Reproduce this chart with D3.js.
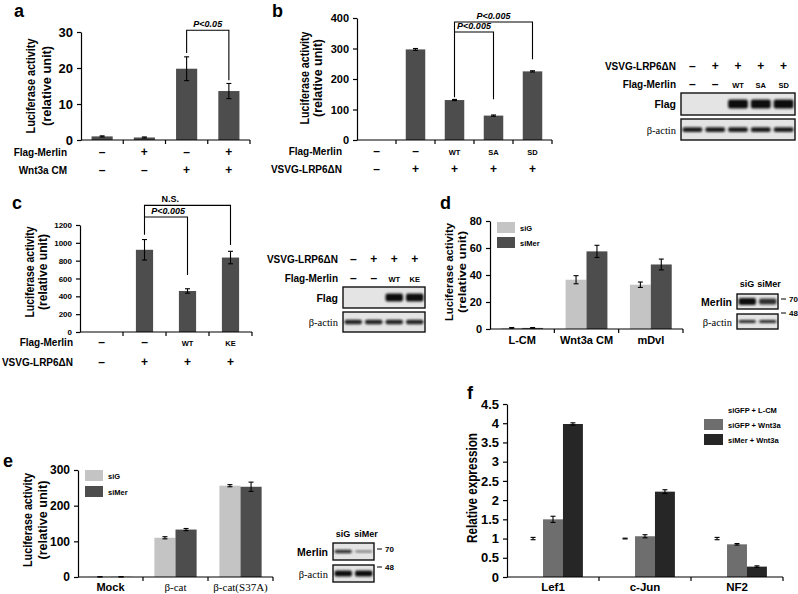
<!DOCTYPE html>
<html><head><meta charset="utf-8">
<script src="https://cdn.jsdelivr.net/npm/d3@7"></script>
<style>
body{margin:0;background:#fff}
svg{display:block}
text{font-family:"Liberation Sans",Arial,sans-serif;font-weight:bold;fill:#000}
</style></head><body>
<svg id="fig" width="798" height="594"></svg>
<script>
// ---------- DATA ----------
// Panel a
const aFlagMerlin = ["–","+","–","+"];
const aWnt3aCM = ["–","–","+","+"];
const aValues = [1.0, 0.7, 19.8, 13.6];
const aErrors = [0.15, 0.15, 3.3, 2.1];
const aTicks = [0, 10, 20, 30];
// Panel b
const bFlagMerlin = ["–","–","WT","SA","SD"];
const bLRP6 = ["–","+","+","+","+"];
const bValues = [0, 297, 131, 80, 225];
const bErrors = [0, 3, 2, 2, 2];
const bTicks = [0, 100, 200, 300, 400];
// Panel c
const cFlagMerlin = ["–","–","WT","KE"];
const cLRP6 = ["–","+","+","+"];
const cValues = [0, 922, 460, 835];
const cErrors = [0, 115, 25, 70];
const cTicks = [0, 200, 400, 600, 800, 1000, 1200];
// Panel d
const dGroups = ["L-CM","Wnt3a CM","mDvl"];
const dSeries = ["siG","siMer"];
const dSiG = [0.8, 36.5, 32.8];
const dSiGErr = [0.3, 3, 2];
const dSiMer = [0.8, 57.5, 47.8];
const dSiMerErr = [0.3, 4.5, 4];
const dTicks = [0, 20, 40, 60, 80];
// Panel e
const eGroups = ["Mock","β-cat","β-cat(S37A)"];
const eSeries = ["siG","siMer"];
const eSiG = [0.5, 110, 256];
const eSiGErr = [0.5, 3, 3];
const eSiMer = [0.5, 133, 253];
const eSiMerErr = [0.5, 3, 13];
const eTicks = [0, 100, 200, 300];
// Panel f
const fGroups = ["Lef1","c-Jun","NF2"];
const fSeries = ["siGFP + L-CM","siGFP + Wnt3a","siMer + Wnt3a"];
const fLCM = [1.0, 1.0, 1.0];
const fLCMErr = [0.03, 0.01, 0.03];
const fWnt = [1.5, 1.06, 0.85];
const fWntErr = [0.08, 0.04, 0.02];
const fMer = [3.98, 2.22, 0.27];
const fMerErr = [0.03, 0.05, 0.02];
const fTicks = [0, 0.5, 1, 1.5, 2, 2.5, 3, 3.5, 4, 4.5];
// Blots (band intensity per lane)
const blotBLRP6 = ["–","+","+","+","+"];
const blotBMerlin = ["–","–","WT","SA","SD"];
const blotBFlag = [0, 0, 1, 1, 1];
const blotBActin = [0.9, 0.9, 0.9, 0.9, 0.9];
const blotCLRP6 = ["–","+","+","+"];
const blotCMerlin = ["–","–","WT","KE"];
const blotCFlag = [0, 0, 1, 1];
const blotCActin = [0.85, 0.85, 0.85, 0.85];
const blotDLanes = ["siG","siMer"];
const blotDMerlin = [1, 0.75];
const blotDActin = [0.8, 0.8];
const blotELanes = ["siG","siMer"];
const blotEMerlin = [0.75, 0.15];
const blotEActin = [1, 1];

// ---------- DRAW ----------
const svg = d3.select("#fig");
const defs = svg.append("defs");
defs.append("filter").attr("id","blur").attr("x","-20%").attr("y","-50%").attr("width","140%").attr("height","200%")
  .append("feGaussianBlur").attr("stdDeviation", 0.9);

const DARK = "#4d4d4d";

function letter(t, x, y) {
  svg.append("text").attr("x", x).attr("y", y).style("font-size", "18px").text(t);
}

function yAxis(y, ticks, x0, fs, fmt) {
  const g = svg.append("g").attr("transform", `translate(${x0},0)`)
    .call(d3.axisLeft(y).tickValues(ticks).tickSize(4).tickSizeOuter(0).tickPadding(4).tickFormat(fmt || d3.format("")));
  g.selectAll("text").style("font-size", fs + "px").style("font-family", '"Liberation Sans",Arial,sans-serif').style("font-weight", "bold");
  g.selectAll("path,line").attr("stroke", "#000").attr("stroke-width", 1.2);
  return g;
}

function xAxisLine(x, n, yPix) {
  const step = x.step();
  const start = x.range()[0];
  const end = x.range()[1];
  svg.append("line").attr("x1", start).attr("x2", end).attr("y1", yPix).attr("y2", yPix)
    .attr("stroke", "#000").attr("stroke-width", 1.2);
  svg.selectAll(null).data(d3.range(1, n + 1)).enter().append("line")
    .attr("x1", i => start + i * step).attr("x2", i => start + i * step)
    .attr("y1", yPix).attr("y2", yPix + 4).attr("stroke", "#000").attr("stroke-width", 1.2);
}

function errBar(cx, y, v, e, cap) {
  const g = svg.append("g").attr("stroke", "#000").attr("stroke-width", 1.1);
  g.append("line").attr("x1", cx).attr("x2", cx).attr("y1", y(v - e)).attr("y2", y(v + e));
  g.append("line").attr("x1", cx - cap).attr("x2", cx + cap).attr("y1", y(v + e)).attr("y2", y(v + e));
  g.append("line").attr("x1", cx - cap).attr("x2", cx + cap).attr("y1", y(v - e)).attr("y2", y(v - e));
}

function yTitle(lines, xs, cy, fs, len) {
  lines.forEach((t, i) => {
    svg.append("text").attr("transform", `translate(${xs[i]},${cy}) rotate(-90)`)
      .attr("text-anchor", "middle").attr("dominant-baseline", "central")
      .attr("textLength", len[i]).attr("lengthAdjust", "spacingAndGlyphs")
      .style("font-size", fs + "px").text(t);
  });
}

function rowLabels(rows, x, labelX) {
  rows.forEach(r => {
    svg.append("text").attr("x", labelX).attr("y", r.y).attr("text-anchor", "end")
      .style("font-size", (r.fs || 10) + "px").text(r.label);
    svg.selectAll(null).data(r.values).enter().append("text")
      .attr("x", (d, i) => x(i) + x.bandwidth() / 2).attr("y", r.y)
      .attr("text-anchor", "middle")
      .style("font-size", d => (d.length > 1 ? 7.5 : 12) + "px")
      .text(d => d);
  });
}

function bracket(x, y, b) {
  const xa = x(b.a) + x.bandwidth() / 2, xb = x(b.b) + x.bandwidth() / 2;
  const yt = y(b.top);
  svg.append("path")
    .attr("d", `M${xa},${y(b.endA)}V${yt}H${xb}V${y(b.endB)}`)
    .attr("fill", "none").attr("stroke", "#000").attr("stroke-width", 1.1);
  svg.append("text").attr("x", x(0) + x.step() * b.labelPos + x.bandwidth() / 2).attr("y", yt - 3)
    .attr("text-anchor", "middle").style("font-size", "9px")
    .style("font-style", b.italic === false ? "normal" : "italic").text(b.label);
}

function simplePanel(cfg) {
  const x = d3.scaleBand().domain(d3.range(cfg.values.length)).range([cfg.x0, cfg.x1])
    .paddingInner(cfg.pad).paddingOuter(cfg.pad / 2);
  const y = d3.scaleLinear().domain([0, cfg.max]).range([cfg.yBase, cfg.yTop]);
  svg.selectAll(null).data(cfg.values).enter().append("rect")
    .attr("x", (d, i) => x(i)).attr("width", x.bandwidth())
    .attr("y", d => y(d)).attr("height", d => y(0) - y(d)).attr("fill", DARK);
  cfg.values.forEach((v, i) => { if (cfg.errors[i] > 0) errBar(x(i) + x.bandwidth() / 2, y, v, cfg.errors[i], 2.5); });
  xAxisLine(x, cfg.values.length, cfg.yBase);
  yAxis(y, cfg.ticks, cfg.x0, cfg.tickFs);
  (cfg.brackets || []).forEach(b => bracket(x, y, b));
  return { x, y };
}

function blot(cfg) {
  const lx = d3.scaleBand().domain(d3.range(cfg.n)).range([cfg.x0, cfg.x1]);
  cfg.rows.forEach(r => {
    svg.append("rect").attr("x", cfg.x0).attr("y", r.y0).attr("width", cfg.x1 - cfg.x0).attr("height", r.y1 - r.y0)
      .attr("fill", "#e4e4e4").attr("stroke", "#111").attr("stroke-width", 1.4);
    svg.append("text").attr("x", cfg.x0 - 5).attr("y", (r.y0 + r.y1) / 2 + 4).attr("text-anchor", "end")
      .style("font-size", "10.5px").style("font-family", r.serif ? '"Liberation Serif",serif' : null)
      .style("font-weight", r.serif ? "normal" : "bold").text(r.label);
    const cy = (r.y0 + r.y1) / 2;
    const bands = r.intens.map((d, i) => ({ d, i })).filter(o => o.d > 0);
    svg.selectAll(null).data(bands).enter().append("rect")
      .attr("x", o => lx(o.i) + 1.5)
      .attr("width", lx.bandwidth() - 3)
      .attr("y", o => cy - r.h * (0.5 + o.d * 0.5) / 2)
      .attr("height", o => r.h * (0.5 + o.d * 0.5))
      .attr("rx", 2)
      .attr("fill", "#111").attr("opacity", o => 0.35 + 0.65 * o.d).attr("filter", "url(#blur)");
    if (r.marker) {
      svg.append("line").attr("x1", cfg.x1 + 3).attr("x2", cfg.x1 + 8).attr("y1", r.markerY).attr("y2", r.markerY)
        .attr("stroke", "#000").attr("stroke-width", 1);
      svg.append("text").attr("x", cfg.x1 + 11).attr("y", r.markerY + 3).style("font-size", "8px").text(r.marker);
    }
  });
  return lx;
}

// ===== Panel a =====
letter("a", 14, 17);
const pa = simplePanel({ values: aValues, errors: aErrors, x0: 81, x1: 250, pad: 0.5, max: 30, yBase: 140, yTop: 32,
  ticks: aTicks, tickFs: 13,
  brackets: [{ a: 2, b: 3, top: 30.5, endA: 24.2, endB: 16.6, label: "P<0.05", labelPos: 2.5 }] });
yTitle(["Luciferase activity", "(relative unit)"], [31, 47], 86, 12.5, [95, 80]);
rowLabels([{ label: "Flag-Merlin", values: aFlagMerlin, y: 156 }, { label: "Wnt3a CM", values: aWnt3aCM, y: 174 }], pa.x, 67);

// ===== Panel b =====
letter("b", 272, 17);
const pb = simplePanel({ values: bValues, errors: bErrors, x0: 357, x1: 552, pad: 0.5, max: 400, yBase: 140, yTop: 18,
  ticks: bTicks, tickFs: 11,
  brackets: [
    { a: 2, b: 4, top: 387, endA: 354, endB: 265, label: "P<0.005", labelPos: 3 },
    { a: 2, b: 3, top: 354, endA: 140, endB: 134, label: "P<0.005", labelPos: 2.5 }] });
yTitle(["Luciferase activity", "(relative unit)"], [305, 318], 78, 12, [93, 78]);
rowLabels([{ label: "Flag-Merlin", values: bFlagMerlin, y: 155 }, { label: "VSVG-LRP6ΔN", values: bLRP6, y: 173 }], pb.x, 342);

// Blot b
const lb = blot({ x0: 681, x1: 795, n: 5, rows: [
  { y0: 93, y1: 115, label: "Flag", intens: blotBFlag, h: 9 },
  { y0: 119, y1: 140, label: "β-actin", intens: blotBActin, h: 5, serif: true }] });
[{ label: "VSVG-LRP6ΔN", values: blotBLRP6, y: 70 }, { label: "Flag-Merlin", values: blotBMerlin, y: 88 }].forEach(r => {
  svg.append("text").attr("x", 676).attr("y", r.y).attr("text-anchor", "end").style("font-size", "10px").text(r.label);
  svg.selectAll(null).data(r.values).enter().append("text").attr("x", (d, i) => lb(i) + lb.bandwidth() / 2).attr("y", r.y)
    .attr("text-anchor", "middle").style("font-size", d => (d.length > 1 ? 7.5 : 12) + "px").text(d => d);
});

// ===== Panel c =====
letter("c", 12, 209);
const pc = simplePanel({ values: cValues, errors: cErrors, x0: 80, x1: 252, pad: 0.6, max: 1200, yBase: 332, yTop: 225,
  ticks: cTicks, tickFs: 8,
  brackets: [
    { a: 1, b: 3, top: 1420, endA: 1090, endB: 975, label: "N.S.", labelPos: 1.6, italic: false },
    { a: 1, b: 2, top: 1290, endA: 1290, endB: 640, label: "P<0.005", labelPos: 1.55 }] });
yTitle(["Luciferase activity", "(relative unit)"], [30, 43], 272, 12, [91, 76]);
rowLabels([{ label: "Flag-Merlin", values: cFlagMerlin, y: 346 }, { label: "VSVG-LRP6ΔN", values: cLRP6, y: 366 }], pc.x, 73);

// Blot c
const lc = blot({ x0: 343, x1: 425, n: 4, rows: [
  { y0: 287, y1: 308, label: "Flag", intens: blotCFlag, h: 8 },
  { y0: 312, y1: 332, label: "β-actin", intens: blotCActin, h: 5, serif: true }] });
[{ label: "VSVG-LRP6ΔN", values: blotCLRP6, y: 263 }, { label: "Flag-Merlin", values: blotCMerlin, y: 282 }].forEach(r => {
  svg.append("text").attr("x", 338).attr("y", r.y).attr("text-anchor", "end").style("font-size", "10px").text(r.label);
  svg.selectAll(null).data(r.values).enter().append("text").attr("x", (d, i) => lc(i) + lc.bandwidth() / 2).attr("y", r.y)
    .attr("text-anchor", "middle").style("font-size", d => (d.length > 1 ? 7.5 : 12) + "px").text(d => d);
});

// ===== Grouped panels =====
function groupedPanel(cfg) {
  const x = d3.scaleBand().domain(d3.range(cfg.groups.length)).range([cfg.x0, cfg.x1]).paddingInner(cfg.pad).paddingOuter(cfg.pad / 2);
  const xs = d3.scaleBand().domain(d3.range(cfg.series.length)).range([0, x.bandwidth()]);
  const y = d3.scaleLinear().domain([0, cfg.max]).range([cfg.yBase, cfg.yTop]);
  cfg.series.forEach((s, si) => {
    svg.selectAll(null).data(s.values).enter().append("rect")
      .attr("x", (d, i) => x(i) + xs(si)).attr("width", xs.bandwidth())
      .attr("y", d => y(d)).attr("height", d => y(0) - y(d)).attr("fill", s.color);
    s.values.forEach((v, i) => errBar(x(i) + xs(si) + xs.bandwidth() / 2, y, v, s.errs[i], 2.5));
  });
  xAxisLine(x, cfg.groups.length, cfg.yBase);
  yAxis(y, cfg.ticks, cfg.x0, cfg.tickFs, cfg.fmt);
  svg.selectAll(null).data(cfg.groups).enter().append("text")
    .attr("x", (d, i) => x(i) + x.bandwidth() / 2).attr("y", cfg.catY).attr("text-anchor", "middle")
    .style("font-size", cfg.catFs + "px")
    .style("font-family", d => d.startsWith("β") ? '"Liberation Serif",serif' : null)
    .style("font-weight", d => d.startsWith("β") ? "normal" : "bold")
    .text(d => d);
  cfg.series.forEach((s, si) => {
    const ly = cfg.legY + si * cfg.legStep;
    svg.append("rect").attr("x", cfg.legX).attr("y", ly).attr("width", cfg.swW).attr("height", cfg.swH).attr("fill", s.color);
    svg.append("text").attr("x", cfg.legX + cfg.swW + 5).attr("y", ly + cfg.swH / 2 + 3).style("font-size", cfg.legFs + "px").text(s.name);
  });
  return { x, y };
}

// Panel d
letter("d", 440, 209);
groupedPanel({ groups: dGroups, x0: 490, x1: 683, pad: 0.35, max: 80, yBase: 329, yTop: 221, ticks: dTicks, tickFs: 11,
  series: [{ name: dSeries[0], values: dSiG, errs: dSiGErr, color: "#c4c4c4" }, { name: dSeries[1], values: dSiMer, errs: dSiMerErr, color: DARK }],
  catY: 344, catFs: 11, legX: 497, legY: 222, legStep: 15, swW: 18, swH: 11, legFs: 7.5 });
yTitle(["Luciferase activity", "(relative unit)"], [449, 462], 272, 11.5, [98, 82]);

// Blot d
blot({ x0: 737, x1: 778, n: 2, rows: [
  { y0: 294, y1: 309, label: "Merlin", intens: blotDMerlin, h: 7, marker: "70", markerY: 299 },
  { y0: 314, y1: 329, label: "β-actin", intens: blotDActin, h: 3.5, serif: true, marker: "48", markerY: 313 }] });
svg.selectAll(null).data(blotDLanes).enter().append("text").attr("x", (d, i) => 747 + i * 22).attr("y", 287)
  .attr("text-anchor", "middle").style("font-size", "9px").text(d => d);

// Panel e
letter("e", 3, 467);
groupedPanel({ groups: eGroups, x0: 78, x1: 273, pad: 0.35, max: 300, yBase: 577, yTop: 470, ticks: eTicks, tickFs: 12,
  series: [{ name: eSeries[0], values: eSiG, errs: eSiGErr, color: "#c4c4c4" }, { name: eSeries[1], values: eSiMer, errs: eSiMerErr, color: DARK }],
  catY: 591, catFs: 11, legX: 85, legY: 470, legStep: 16, swW: 18, swH: 11, legFs: 7.5 });
yTitle(["Luciferase activity", "(relative unit)"], [28, 43], 520, 12, [94, 79]);

// Blot e
blot({ x0: 333, x1: 374, n: 2, rows: [
  { y0: 543, y1: 560, label: "Merlin", intens: blotEMerlin, h: 4, marker: "70", markerY: 549 },
  { y0: 565, y1: 582, label: "β-actin", intens: blotEActin, h: 6, serif: true, marker: "48", markerY: 567 }] });
svg.selectAll(null).data(blotELanes).enter().append("text").attr("x", (d, i) => 343 + i * 23).attr("y", 537)
  .attr("text-anchor", "middle").style("font-size", "9px").text(d => d);

// Panel f
letter("f", 467, 399);
groupedPanel({ groups: fGroups, x0: 507, x1: 783, pad: 0.35, max: 4.5, yBase: 577, yTop: 404, ticks: fTicks, tickFs: 13,
  fmt: d => String(d),
  series: [{ name: fSeries[0], values: fLCM, errs: fLCMErr, color: "#ffffff" },
           { name: fSeries[1], values: fWnt, errs: fWntErr, color: "#6e6e6e" },
           { name: fSeries[2], values: fMer, errs: fMerErr, color: "#262626" }],
  catY: 591, catFs: 11.5, legX: 704, legY: 404, legStep: 15, swW: 19, swH: 11, legFs: 7.5 });
yTitle(["Relative expression"], [472], 488, 14, [110]);
</script>
</body></html>
